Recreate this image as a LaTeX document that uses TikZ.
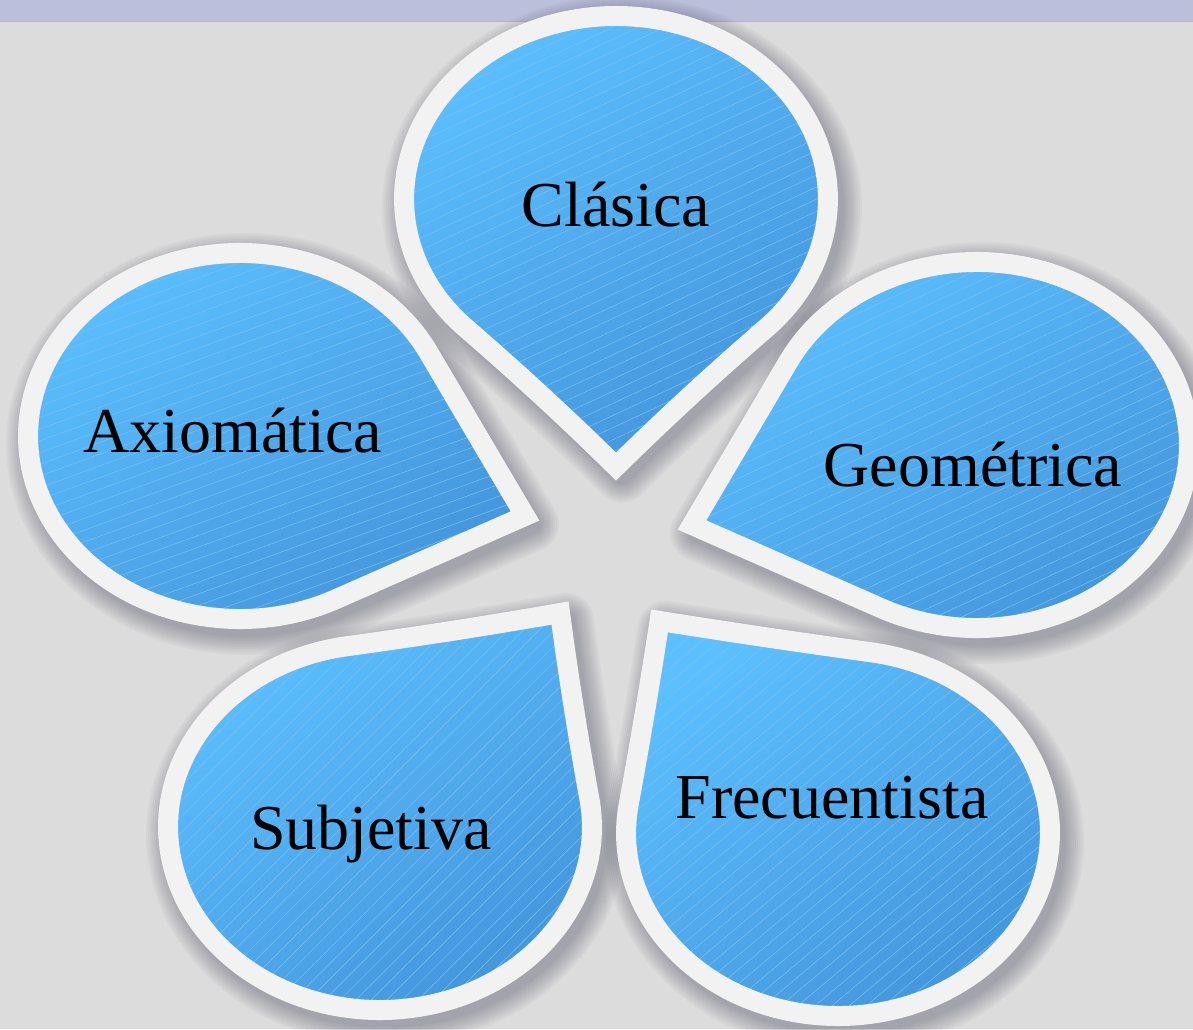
\documentclass[tikz,border=0pt]{standalone}
\usepackage{fontspec}
\setmainfont{Liberation Serif}
\usetikzlibrary{patterns.meta}
\definecolor{bgc}{RGB}{220,220,220}
\definecolor{bandc}{RGB}{187,191,218}
\definecolor{bandline}{RGB}{176,179,204}
\definecolor{ringc}{RGB}{242,242,242}
\definecolor{blueA}{RGB}{92,192,255}
\definecolor{blueB}{RGB}{86,176,244}
\definecolor{blueC}{RGB}{68,148,218}
\definecolor{hatchc}{RGB}{118,194,246}
\definecolor{shadowc}{RGB}{60,60,85}
\newcommand\teardrop[2]{%
  \path[#1] (-1,0) arc[start angle=180,end angle=90,radius=1]
    .. controls ({#2/3},1) and ({2*#2/3},{(#2+2)/3}) .. (#2,#2)
    .. controls ({(#2+2)/3},{2*#2/3}) and (1,{#2/3}) .. (1,0)
    arc[start angle=0,end angle=-180,radius=1] -- cycle;}
\newcommand\petalshadow[4]{%
  \begin{scope}[shift={(#1+6,#2-8)}, xscale=1.158, rotate=#3, scale=183]
    \foreach \k in {1,...,10} {\teardrop{draw=shadowc, draw opacity=0.04, line width={(16+4*\k)*1pt}, line join=round}{#4}}
  \end{scope}}
\newcommand\petalbody[5]{%
  \begin{scope}[shift={(#1,#2)}, xscale=1.158, rotate=#3, scale=183]
    \teardrop{petalfill}{#4}
    \teardrop{pattern={Lines[angle=#5,distance=11pt,line width=0.5pt]}, pattern color=hatchc}{#4}
    \teardrop{draw=ringc, line width=20pt, line join=miter, miter limit=10}{#4}
  \end{scope}}
\tikzset{
  petalfill/.style={top color=blueA, middle color=blueB, bottom color=blueC, shading angle=35},
  label/.style={font=\fontsize{64pt}{72pt}\selectfont, anchor=base, text=black, inner sep=0pt}
}
\begin{document}
\begin{tikzpicture}[x=1pt,y=1pt]
  \useasboundingbox (0,0) rectangle (1193,1029);
  \clip (0,0) rectangle (1193,1029);
  \fill[bgc] (0,0) rectangle (1193,1029);
  \fill[bandc] (0,1007) rectangle (1193,1029);
  \draw[bandline, line width=1pt] (0,1007) -- (1193,1007);
  % shadows
  \petalshadow{616}{830}{-135}{1.034}
  \petalshadow{240}{593}{-63}{1.0}
  \petalshadow{977}{584}{153}{1.0}
  \petalshadow{380}{202}{9}{1.022}
  \petalshadow{838}{196}{81}{1.013}
  % petals
  \petalbody{616}{830}{-135}{1.034}{25}
  \petalbody{240}{593}{-63}{1.0}{20}
  \petalbody{977}{584}{153}{1.0}{25}
  \petalbody{380}{202}{9}{1.022}{45}
  \petalbody{838}{196}{81}{1.013}{40}
  % labels
  \node[label] (clasica) at (616,802) {Clásica};
  \node[label] (axiomatica) at (233,576) {Axiomática};
  \node[label] (geometrica) at (973,542) {Geométrica};
  \node[label] (subjetiva) at (371,180) {Subjetiva};
  \node[label] (frecuentista) at (832,211) {Frecuentista};
\end{tikzpicture}
\end{document}
